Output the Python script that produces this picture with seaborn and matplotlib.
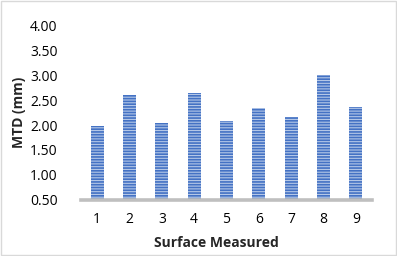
import matplotlib
matplotlib.use("Agg")
import matplotlib.pyplot as plt
import seaborn as sns
import pandas as pd
from matplotlib.patches import Rectangle

categories = ["1", "2", "3", "4", "5", "6", "7", "8", "9"]
mtd_values = [1.98, 2.61, 2.05, 2.64, 2.09, 2.34, 2.17, 3.00, 2.37]
y_ticks = [0.5, 1.0, 1.5, 2.0, 2.5, 3.0, 3.5, 4.0]

sns.set_theme(style="white")
plt.rcParams['font.family'] = ['Open Sans', 'DejaVu Sans']
plt.rcParams['hatch.linewidth'] = 1.2

df = pd.DataFrame({"Surface": categories, "MTD": mtd_values})

fig = plt.figure(figsize=(3.97, 2.56), dpi=100)
ax = fig.add_axes([0.204, 0.219, 0.733, 0.683])

sns.barplot(data=df, x="Surface", y="MTD", color="#B4C7E7", width=0.4, ax=ax,
            saturation=1)
for p in ax.patches:
    p.set_hatch("------")
    p.set_edgecolor("#4472C4")
    p.set_linewidth(0)

ax.set_ylim(0.5, 4.0)
ax.set_yticks(y_ticks)
ax.set_yticklabels([f"{t:.2f}" for t in y_ticks])
ax.set_xlim(-0.5, 8.5)

for s in ["top", "right", "left"]:
    ax.spines[s].set_visible(False)
ax.spines["bottom"].set_color("#BFBFBF")
ax.spines["bottom"].set_linewidth(2.6)

ax.tick_params(axis="both", length=0, labelsize=10, colors="black")
ax.tick_params(axis="y", pad=17)
ax.tick_params(axis="x", pad=9)

ax.set_xlabel("Surface Measured", fontsize=10, fontweight="bold")
ax.set_ylabel("MTD (mm)", fontsize=10, fontweight="bold")
ax.xaxis.set_label_coords(0.465, -0.205)
ax.yaxis.set_label_coords(-0.19, 0.5)

fig.patches.append(Rectangle((0.0015, 0.002), 0.995, 0.994, transform=fig.transFigure,
                             fill=False, edgecolor="#D9D9D9", linewidth=1))

fig.savefig("out.png", dpi=100)
